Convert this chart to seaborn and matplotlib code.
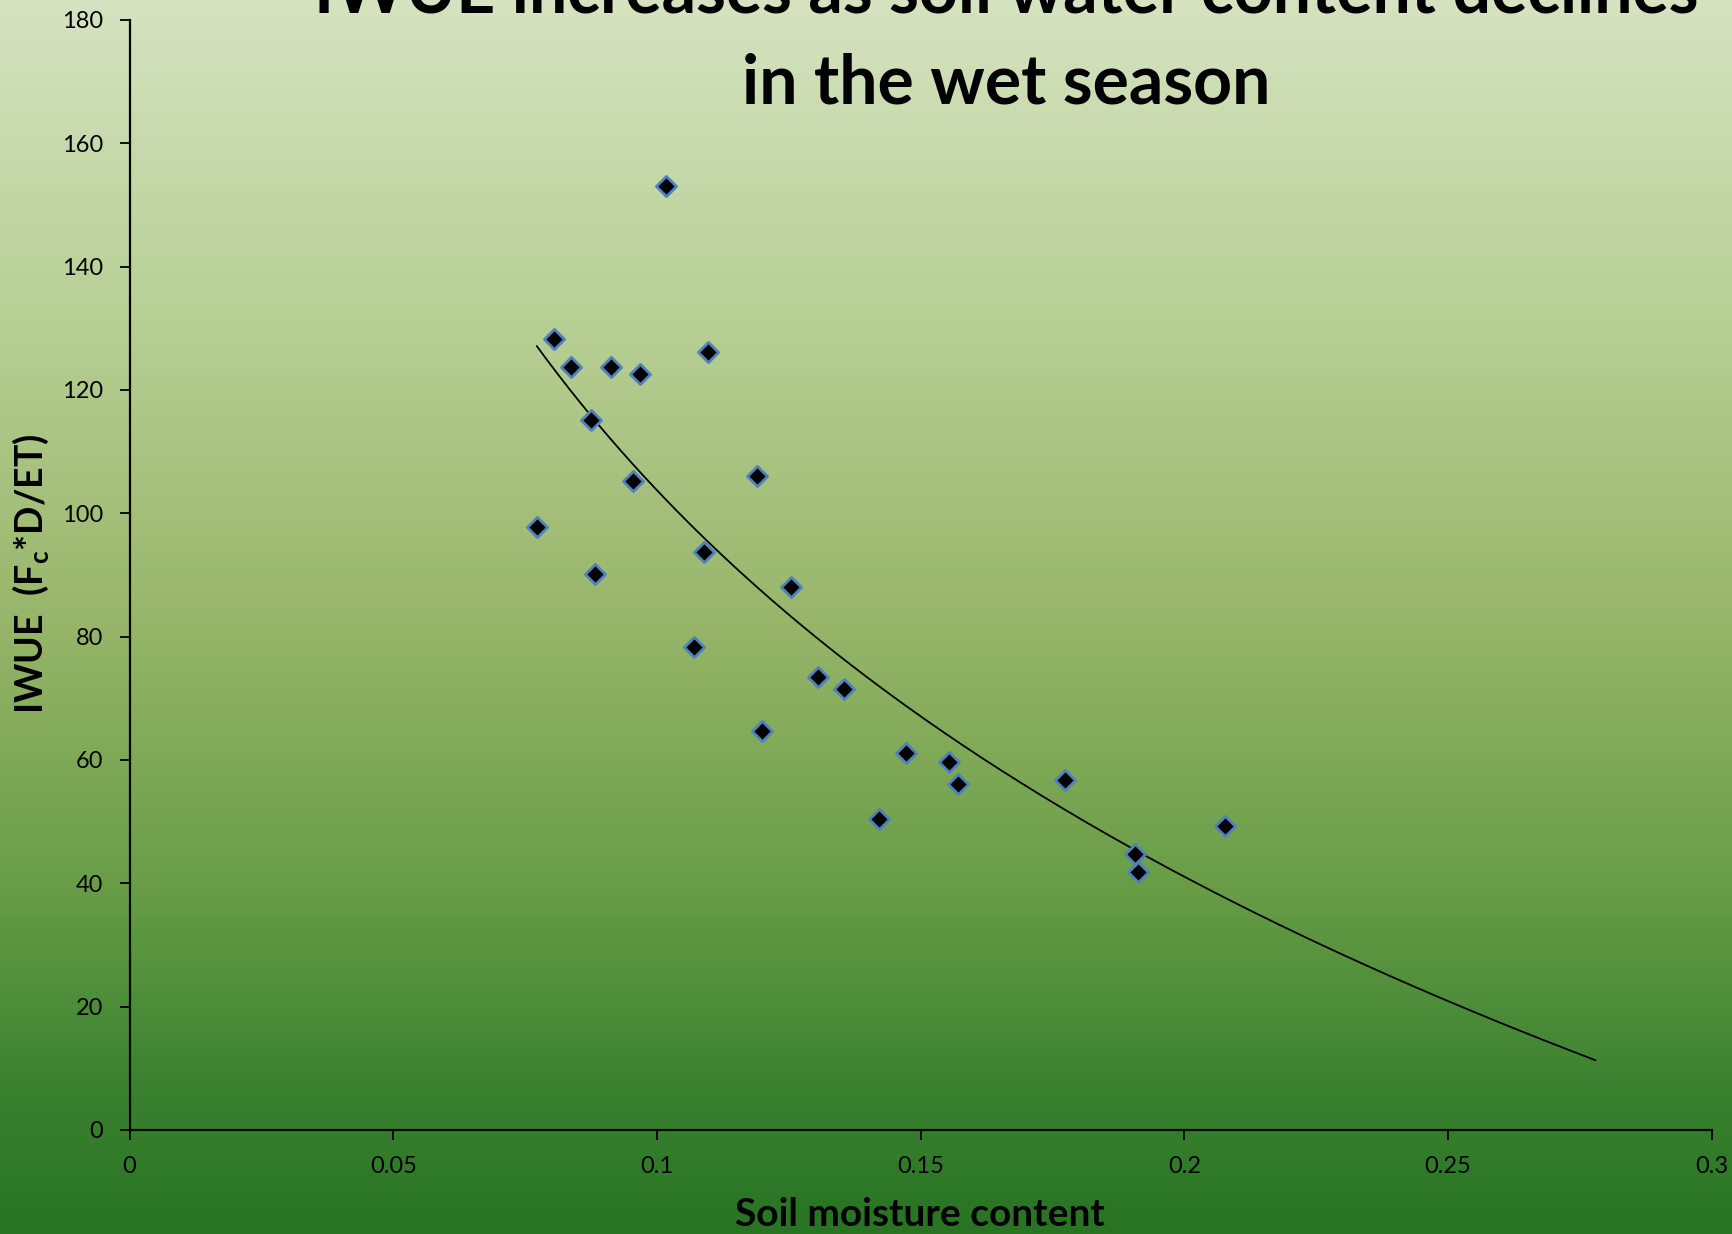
import matplotlib
matplotlib.use('Agg')
import numpy as np
import pandas as pd
import seaborn as sns
import matplotlib.pyplot as plt
from matplotlib.colors import LinearSegmentedColormap

# =========================================
# DATA
# =========================================

soil_moisture = [
    0.0772, 0.0804, 0.0837, 0.0875, 0.0883, 0.0913, 0.0955, 0.0967,
    0.1017, 0.1070, 0.1089, 0.1097, 0.1189, 0.1199, 0.1254, 0.1306,
    0.1354, 0.1421, 0.1472, 0.1553, 0.1570, 0.1773, 0.1907, 0.1913,
    0.2077,
]

iwue = [
    97.7, 128.2, 123.7, 115.1, 90.2, 123.7, 105.2, 122.6,
    153.1, 78.3, 93.8, 126.2, 106.1, 64.7, 88.0, 73.5,
    71.5, 50.4, 61.1, 59.7, 56.1, 56.7, 44.8, 41.8,
    49.3,
]

# trendline runs forward past the last point
trend_end = 0.278

x_ticks = [0, 0.05, 0.1, 0.15, 0.2, 0.25, 0.3]
x_tick_labels = ["0", "0.05", "0.1", "0.15", "0.2", "0.25", "0.3"]
y_ticks = [0, 20, 40, 60, 80, 100, 120, 140, 160, 180]

title_text = "IWUE increases as soil water content declines\nin the wet season"
x_label = "Soil moisture content"
y_label = "IWUE  (F$_\\mathbf{c}$*D/ET)"

df = pd.DataFrame({"x": soil_moisture, "y": iwue})

# logarithmic trendline (Excel style) fitted on the points
a, b = np.polyfit(np.log(df["x"]), df["y"], 1)
trend_x = np.linspace(df["x"].min(), trend_end, 200)
trend_y = a * np.log(trend_x) + b

# =========================================
# FIGURE
# =========================================

sns.set_style("ticks")
plt.rcParams['font.family'] = ['Lato', 'DejaVu Sans']
plt.rcParams['mathtext.fontset'] = 'custom'
plt.rcParams['mathtext.rm'] = 'Lato'
plt.rcParams['mathtext.bf'] = 'Lato:bold'
plt.rcParams['text.color'] = 'black'
plt.rcParams['axes.labelcolor'] = 'black'
plt.rcParams['xtick.color'] = 'black'
plt.rcParams['ytick.color'] = 'black'

fig = plt.figure(figsize=(17.32, 12.34), dpi=100)

# background gradient
bg = fig.add_axes([0, 0, 1, 1], zorder=-10)
grad_cmap = LinearSegmentedColormap.from_list(
    "bg",
    [
        (0.00, "#d5e3c0"),
        (0.27, "#b6ce93"),
        (0.50, "#98b66a"),
        (0.72, "#689d46"),
        (0.88, "#3b8230"),
        (1.00, "#287423"),
    ],
)
bg.imshow(np.linspace(0, 1, 256).reshape(-1, 1), aspect='auto',
          cmap=grad_cmap, extent=[0, 1, 0, 1])
bg.axis('off')

ax = fig.add_axes([0.0748, 0.0843, 0.9135, 0.8995])
ax.patch.set_alpha(0)

sns.scatterplot(
    data=df,
    x="x",
    y="y",
    marker="D",
    s=105,
    color="black",
    edgecolor="#4f81bd",
    linewidth=2.0,
    zorder=3,
    ax=ax
)

ax.plot(trend_x, trend_y, color="black", linewidth=1.3, zorder=2)

ax.set_xlim(0, 0.3)
ax.set_ylim(0, 180)
ax.set_xticks(x_ticks)
ax.set_xticklabels(x_tick_labels)
ax.set_yticks(y_ticks)
ax.tick_params(axis='both', labelsize=17, length=7, width=1.3,
               direction='out', colors='black', pad=12)

sns.despine(ax=ax)
for side in ["left", "bottom"]:
    ax.spines[side].set_linewidth(1.6)
    ax.spines[side].set_color("black")

ax.set_xlabel("")
ax.set_ylabel("")

fig.text(0.531, 0.002, x_label, ha='center', va='bottom',
         fontsize=28, fontweight='bold')
fig.text(0.018, 0.535, y_label, ha='center', va='center',
         rotation=90, fontsize=27, fontweight='bold')

fig.text(0.581, 0.906, title_text, ha='center', va='bottom',
         fontsize=49, fontweight='bold', linespacing=1.55)

fig.savefig("out.png", dpi=100)
plt.close(fig)
